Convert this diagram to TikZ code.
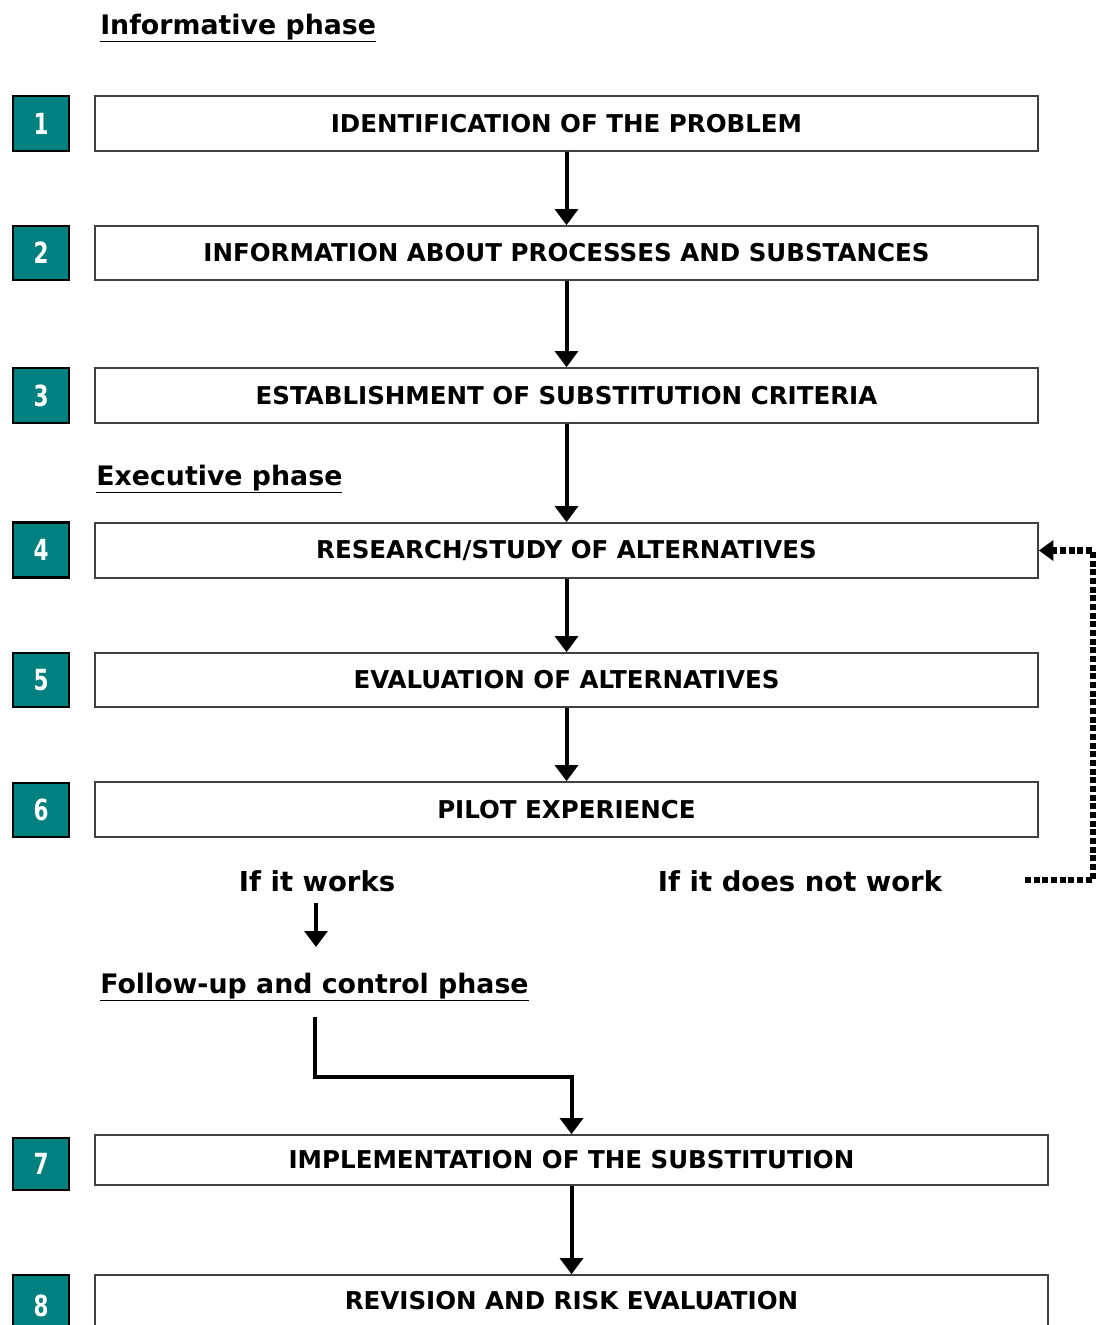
\documentclass[tikz,border=0pt]{standalone}
\usepackage{fontspec}
\setmainfont{DejaVu Sans}
\usetikzlibrary{arrows.meta}
\definecolor{tealbox}{HTML}{00807E}
\definecolor{boxline}{HTML}{404040}
\newcommand{\numtxt}[1]{\raisebox{-2pt}{\scalebox{0.85}[1.15]{#1}}}
\begin{document}
\begin{tikzpicture}[x=0.75pt,y=-0.75pt,
  mainbox/.style={draw=boxline, line width=1.2pt, fill=white, inner sep=0pt,
    font=\fontsize{18.4}{22}\selectfont\bfseries},
  numbox/.style={draw=black, line width=1.6pt, fill=tealbox, text=white, inner sep=0pt,
    minimum width=56*0.75pt, font=\fontsize{19}{22}\selectfont\bfseries},
  lbl/.style={inner sep=0pt, font=\fontsize{20.6}{24}\selectfont\bfseries},
  ttl/.style={inner sep=0pt, font=\fontsize{20.1}{24}\selectfont\bfseries},
  arr/.style={line width=3pt, -{Triangle[width=17pt,length=12pt]}},
  dasharr/.style={line width=4.8pt, dash pattern=on 4.5pt off 2pt, -{Triangle[width=15pt,length=11pt]}}
]
\useasboundingbox (0,0) rectangle (1101,1325);
\clip (0,0) rectangle (1101,1325);

% phase titles
\node[ttl, anchor=base west] (t1) at (100,34) {\underline{Informative phase}};
\node[ttl, anchor=base west] (t2) at (96,485) {\underline{Executive phase}};
\node[ttl, anchor=base west] (t3) at (100,993) {\underline{Follow-up and control phase}};

% main boxes
\node[mainbox, minimum width=943*0.75pt, minimum height=55*0.75pt] (b1) at (566.5,123.5) {IDENTIFICATION OF THE PROBLEM};
\node[mainbox, minimum width=943*0.75pt, minimum height=54*0.75pt] (b2) at (566.5,253) {INFORMATION ABOUT PROCESSES AND SUBSTANCES};
\node[mainbox, minimum width=943*0.75pt, minimum height=55*0.75pt] (b3) at (566.5,395.5) {ESTABLISHMENT OF SUBSTITUTION CRITERIA};
\node[mainbox, minimum width=943*0.75pt, minimum height=55*0.75pt] (b4) at (566.5,550.5) {RESEARCH/STUDY OF ALTERNATIVES};
\node[mainbox, minimum width=943*0.75pt, minimum height=54*0.75pt] (b5) at (566.5,680) {EVALUATION OF ALTERNATIVES};
\node[mainbox, minimum width=943*0.75pt, minimum height=55*0.75pt] (b6) at (566.5,809.5) {PILOT EXPERIENCE};
\node[mainbox, minimum width=953*0.75pt, minimum height=50*0.75pt] (b7) at (571.5,1160) {IMPLEMENTATION OF THE SUBSTITUTION};
\node[mainbox, minimum width=953*0.75pt, minimum height=62*0.75pt] (b8) at (571.5,1306) {};
\node[inner sep=0pt, font=\fontsize{18.4}{22}\selectfont\bfseries] (b8t) at (571.5,1301) {REVISION AND RISK EVALUATION};

% number boxes
\node[numbox, minimum height=55*0.75pt] (n1) at (41,123.5) {\numtxt{1}};
\node[numbox, minimum height=54*0.75pt] (n2) at (41,253) {\numtxt{2}};
\node[numbox, minimum height=55*0.75pt] (n3) at (41,395.5) {\numtxt{3}};
\node[numbox, minimum height=55*0.75pt] (n4) at (41,550) {\numtxt{4}};
\node[numbox, minimum height=54*0.75pt] (n5) at (41,680) {\numtxt{5}};
\node[numbox, minimum height=54*0.75pt] (n6) at (41,810) {\numtxt{6}};
\node[numbox, minimum height=52*0.75pt] (n7) at (41,1164) {\numtxt{7}};
\node[numbox, minimum height=62*0.75pt] (n8) at (41,1306) {\numtxt{8}};

% outcome labels
\node[lbl] (w) at (317,881) {If it works};
\node[lbl] (nw) at (800,881) {If it does not work};

\coordinate (c0) at (316,903);
\coordinate (c1) at (316,947);
\coordinate (c2) at (315,1017);
\coordinate (c3) at (1025,880);
\coordinate (c4) at (1093,880);

% arrows
\draw[arr] (b1.south) -- (b2.north);
\draw[arr] (b2.south) -- (b3.north);
\draw[arr] (b3.south) -- (b4.north);
\draw[arr] (b4.south) -- (b5.north);
\draw[arr] (b5.south) -- (b6.north);
\draw[arr] (c0) -- (c1);
\draw[arr] (c2) -- ++(0,60) -| (b7.north);
\draw[arr] (b7.south) -- (b8.north);
\draw[dasharr] (c3) -- (c4) |- (b4.east);
\end{tikzpicture}
\end{document}
